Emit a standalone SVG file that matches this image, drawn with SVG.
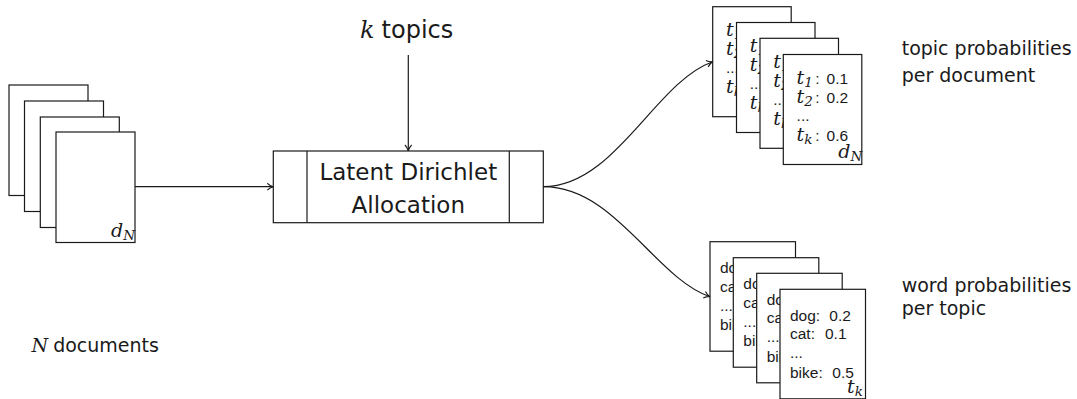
<svg xmlns="http://www.w3.org/2000/svg" xmlns:xlink="http://www.w3.org/1999/xlink" width="1077" height="399" viewBox="0 0 1077 399">
  <style>
    .ln { fill: none; stroke: #1a1a1a; stroke-width: 1.2; }
    .pg { fill: #ffffff; stroke: #1a1a1a; stroke-width: 1.2; }
    .sans { font-family: "DejaVu Sans", "Liberation Sans", sans-serif; fill: #1a1a1a; }
    .card { font-family: "Liberation Sans", "DejaVu Sans", sans-serif; font-size: 15.5px; fill: #1a1a1a; }
    .math { font-family: "DejaVu Serif", "Liberation Serif", serif; font-style: italic; fill: #1a1a1a; }
    .big { font-size: 23px; }
    .lbl { font-size: 19px; }
    .mt { font-size: 19px; }
    .sub { font-size: 13.5px; }
  </style>
  <defs>
    <marker id="arr" viewBox="-7 -4 8 8" markerWidth="8" markerHeight="8" refX="0" refY="0" orient="auto" markerUnits="userSpaceOnUse">
      <path d="M-6,-3.4 C-4.2,-1.6 -1.8,-0.4 0,0 C-1.8,0.4 -4.2,1.6 -6,3.4" fill="none" stroke="#1a1a1a" stroke-width="1.1"/>
    </marker>
    <!-- document page (input corpus) -->
    <g id="docPage">
      <rect class="pg" x="0" y="0" width="79" height="110.5"/>
      <text class="math mt" x="55" y="104.5">d<tspan class="sub" dy="3">N</tspan></text>
    </g>
    <!-- per-document topic distribution card -->
    <g id="topicCard">
      <rect class="pg" x="0" y="0" width="78.5" height="110"/>
      <text class="math mt" x="13.3" y="29.3">t<tspan class="sub" dy="3">1</tspan></text>
      <text class="card" x="32" y="29.3">:</text>
      <text class="card" x="43.3" y="29.3">0.1</text>
      <text class="math mt" x="13.3" y="48.3">t<tspan class="sub" dy="3">2</tspan></text>
      <text class="card" x="32" y="48.3">:</text>
      <text class="card" x="43.3" y="48.3">0.2</text>
      <text class="card" font-size="10" x="13.3" y="66.7">...</text>
      <text class="math mt" x="13.3" y="86.7">t<tspan class="sub" dy="3">k</tspan></text>
      <text class="card" x="32" y="86.7">:</text>
      <text class="card" x="43.3" y="86.7">0.6</text>
      <text class="math mt" x="55" y="103">d<tspan class="sub" dy="3">N</tspan></text>
    </g>
    <!-- per-topic word distribution card -->
    <g id="wordCard">
      <rect class="pg" x="0" y="0" width="85.5" height="109.5"/>
      <text class="card" x="10" y="31.7">dog:</text>
      <text class="card" x="49.3" y="31.7">0.2</text>
      <text class="card" x="10" y="50">cat:</text>
      <text class="card" x="45" y="50">0.1</text>
      <text class="card" font-size="10" x="10" y="69">...</text>
      <text class="card" x="10" y="88.3">bike:</text>
      <text class="card" x="52.3" y="88.3">0.5</text>
      <text class="math mt" x="67" y="104">t<tspan class="sub" dy="3">k</tspan></text>
    </g>
  </defs>

  <!-- input documents -->
  <g id="documents">
    <use xlink:href="#docPage" x="9" y="85"/>
    <use xlink:href="#docPage" x="24.5" y="101"/>
    <use xlink:href="#docPage" x="40.3" y="117"/>
    <use xlink:href="#docPage" x="56" y="132"/>
    <text x="31.5" y="351.7"><tspan class="math" font-size="19">N</tspan><tspan class="sans lbl" dx="5">documents</tspan></text>
  </g>

  <!-- number of topics -->
  <g id="topics">
    <text x="360" y="38"><tspan class="math" font-size="24">k</tspan><tspan class="sans" font-size="24" dx="7">topics</tspan></text>
  </g>

  <!-- LDA process box -->
  <g id="lda">
    <rect class="pg" x="273.3" y="151" width="270" height="71.7"/>
    <line class="ln" x1="307" y1="151" x2="307" y2="222.7"/>
    <line class="ln" x1="509.3" y1="151" x2="509.3" y2="222.7"/>
    <text class="sans big" x="408.3" y="180" text-anchor="middle">Latent Dirichlet</text>
    <text class="sans big" x="408.3" y="213.3" text-anchor="middle">Allocation</text>
  </g>

  <!-- document-topic output -->
  <g id="docTopics">
    <use xlink:href="#topicCard" x="712.7" y="6.7"/>
    <use xlink:href="#topicCard" x="736.5" y="22.5"/>
    <use xlink:href="#topicCard" x="760" y="38.3"/>
    <use xlink:href="#topicCard" x="783.3" y="54.5"/>
    <text class="sans lbl" x="901.7" y="55">topic probabilities</text>
    <text class="sans lbl" x="901.7" y="81.7">per document</text>
  </g>

  <!-- topic-word output -->
  <g id="topicWords">
    <use xlink:href="#wordCard" x="710" y="241.7"/>
    <use xlink:href="#wordCard" x="733.3" y="257.7"/>
    <use xlink:href="#wordCard" x="756.7" y="273.3"/>
    <use xlink:href="#wordCard" x="780" y="289.3"/>
    <text class="sans lbl" x="901.7" y="291.7">word probabilities</text>
    <text class="sans lbl" x="901.7" y="315">per topic</text>
  </g>

  <!-- connectors -->
  <g id="connectors">
    <line class="ln" x1="135" y1="186.7" x2="273.3" y2="186.7" marker-end="url(#arr)"/>
    <line class="ln" x1="408.3" y1="55" x2="408.3" y2="151" marker-end="url(#arr)"/>
    <path class="ln" d="M543.3,186.7 C615,186.7 655,82 712.7,61.7" marker-end="url(#arr)"/>
    <path class="ln" d="M543.3,186.7 C615,186.7 655,278 710,296.7" marker-end="url(#arr)"/>
  </g>
</svg>
